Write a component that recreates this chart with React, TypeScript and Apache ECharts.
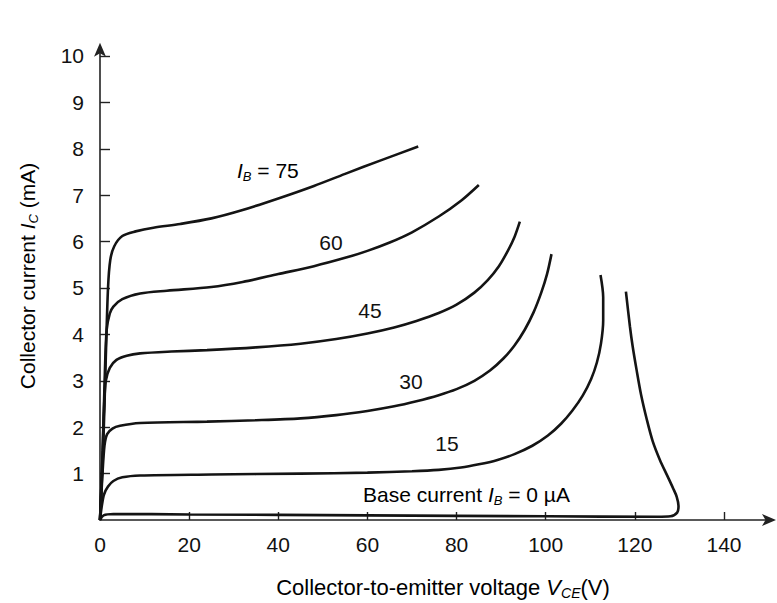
import React, { useEffect, useRef } from "react";
import * as echarts from "echarts";

// Tick values
const xTickValues = [0, 20, 40, 60, 80, 100, 120, 140];
const xTickMarks = [20, 40, 60, 80, 100, 120, 140];
const yTickValues = [1, 2, 3, 4, 5, 6, 7, 8, 9, 10];

// Collector characteristic curves: [V_CE (V), I_C (mA)]
const curveIB0: [number, number][] = [
  [0, 0], [0.8, 0.1], [3, 0.13], [20, 0.12], [60, 0.1], [100, 0.08], [125, 0.07],
  [128, 0.08], [129.5, 0.16], [129.8, 0.3], [129.4, 0.5], [128.6, 0.68], [127.3, 0.95],
  [125.6, 1.3], [124, 1.7], [122.7, 2.16], [121.4, 2.7], [120.4, 3.23], [119.5, 3.75],
  [118.9, 4.17], [118, 4.92],
];
const curveIB15: [number, number][] = [
  [0, 0], [0.4, 0.3], [0.9, 0.55], [1.8, 0.72], [3, 0.84], [5, 0.92], [9, 0.96],
  [25, 0.98], [45, 1.0], [60, 1.02], [70, 1.05], [76, 1.08], [81, 1.13], [85, 1.2],
  [89, 1.29], [93, 1.42], [97, 1.6], [100.5, 1.82], [103.5, 2.08], [106, 2.36],
  [108.3, 2.68], [110.2, 3.04], [111.5, 3.4], [112.4, 3.8], [112.9, 4.3], [112.9, 4.8],
  [112.3, 5.28],
];
const curveIB30: [number, number][] = [
  [0, 0], [0.5, 0.9], [1, 1.6], [1.6, 1.85], [2.8, 1.97], [4.5, 2.03], [9, 2.09],
  [24, 2.12], [35, 2.15], [45, 2.19], [53, 2.26], [60, 2.35], [66, 2.45], [71, 2.56],
  [76, 2.69], [80, 2.82], [84, 3.0], [87.5, 3.22], [90.5, 3.48], [93, 3.76], [95.3, 4.1],
  [97.3, 4.48], [99, 4.9], [100.3, 5.3], [101.3, 5.73],
];
const curveIB45: [number, number][] = [
  [0, 0], [0.5, 1.2], [0.9, 2.4], [1.3, 3.0], [2.2, 3.28], [3.7, 3.45], [6, 3.54],
  [9, 3.59], [16, 3.63], [24, 3.66], [35, 3.72], [45, 3.8], [53, 3.9], [60, 4.02],
  [66, 4.15], [71, 4.29], [76, 4.46], [80, 4.64], [84, 4.9], [87, 5.17], [89.5, 5.47],
  [91.5, 5.8], [93, 6.1], [94.2, 6.43],
];
const curveIB60: [number, number][] = [
  [0, 0], [0.6, 1.5], [1.1, 3.2], [1.5, 4.1], [2.2, 4.45], [3, 4.6], [5, 4.76],
  [9, 4.88], [15, 4.94], [25, 5.02], [32, 5.13], [40, 5.3], [48, 5.47], [55, 5.65],
  [60, 5.8], [65, 5.98], [70, 6.2], [76, 6.54], [81, 6.88], [85, 7.22],
];
const curveIB75: [number, number][] = [
  [0, 0], [0.7, 1.5], [1.3, 3.5], [1.8, 5.0], [2.3, 5.6], [3.2, 5.9], [5, 6.12],
  [8, 6.22], [12, 6.3], [18, 6.38], [25, 6.5], [32, 6.68], [40, 6.93], [48, 7.2],
  [55, 7.46], [63, 7.75], [71.4, 8.05],
];

const curves = [curveIB0, curveIB15, curveIB30, curveIB45, curveIB60, curveIB75];
const curveNames = ["IB0", "IB15", "IB30", "IB45", "IB60", "IB75"];

const FONT = "'Liberation Sans', Arial, Helvetica, sans-serif";
const INK = "#111111";

export default function App() {
  const ref = useRef<HTMLDivElement>(null);

  useEffect(() => {
    if (!ref.current) return;
    const chart = echarts.init(ref.current, null, { renderer: "svg" });

    const main = (size: number) => ({ fontSize: size, fontFamily: FONT, color: INK, lineHeight: 26, verticalAlign: "middle" });
    const ital = (size: number) => ({ ...main(size), fontStyle: "italic" });
    const sub = (size: number) => ({ fontSize: size, fontFamily: FONT, color: INK, fontStyle: "italic", lineHeight: size, verticalAlign: "bottom" });

    const plainLabel = (text: string, x: number, y: number) => ({
      type: "text",
      x,
      y,
      silent: true,
      style: { text, fontSize: 21, fontFamily: FONT, fill: INK, align: "center", verticalAlign: "middle" },
    });

    chart.setOption({
      animation: false,
      backgroundColor: "#ffffff",
      grid: { left: 100, top: 46.7, width: 673, height: 473.3, containLabel: false },
      xAxis: {
        type: "value",
        min: 0,
        max: 151,
        axisLine: {
          show: true,
          symbol: ["none", "arrow"],
          symbolSize: [9, 14],
          symbolOffset: [0, 3],
          lineStyle: { color: "#222", width: 1.6 },
        },
        axisTick: { show: true, inside: true, length: 8, customValues: xTickMarks, lineStyle: { color: "#222", width: 1.4 } },
        axisLabel: { customValues: xTickValues, margin: 14, fontSize: 21, fontFamily: FONT, color: INK },
        splitLine: { show: false },
      },
      yAxis: {
        type: "value",
        min: 0,
        max: 10.2,
        axisLine: {
          show: true,
          symbol: ["none", "arrow"],
          symbolSize: [9, 14],
          symbolOffset: [0, 4],
          lineStyle: { color: "#222", width: 1.6 },
        },
        axisTick: { show: true, inside: true, length: 10, customValues: yTickValues, lineStyle: { color: "#222", width: 1.4 } },
        axisLabel: { customValues: yTickValues, margin: 16, fontSize: 21, fontFamily: FONT, color: INK },
        splitLine: { show: false },
      },
      series: curves.map((data, i) => ({
        name: curveNames[i],
        type: "line",
        data,
        showSymbol: false,
        symbol: "none",
        smooth: 0.3,
        silent: true,
        lineStyle: { color: "#141414", width: 2.6 },
      })),
      graphic: [
        {
          type: "text",
          x: 237,
          y: 170,
          silent: true,
          style: {
            text: "{i|I}{s|B}{n| = 75}",
            verticalAlign: "middle",
            rich: { i: ital(21), s: sub(13), n: main(21) },
          },
        },
        plainLabel("60", 331, 242),
        plainLabel("45", 370, 310),
        plainLabel("30", 411, 381),
        plainLabel("15", 447, 443),
        {
          type: "text",
          x: 363,
          y: 494,
          silent: true,
          style: {
            text: "{n|Base current }{i|I}{s|B}{n| = 0 µA}",
            verticalAlign: "middle",
            rich: { i: ital(21), s: sub(13), n: main(21) },
          },
        },
        {
          type: "text",
          x: 443,
          y: 587,
          silent: true,
          style: {
            text: "{n|Collector-to-emitter voltage }{i|V}{s|CE}{n|(V)}",
            align: "center",
            verticalAlign: "middle",
            rich: { i: ital(22), s: sub(14), n: main(22) },
          },
        },
        {
          type: "text",
          x: 27,
          y: 276,
          rotation: Math.PI / 2,
          silent: true,
          style: {
            text: "{n|Collector current }{i|I}{s|C}{n| (mA)}",
            align: "center",
            verticalAlign: "middle",
            rich: { i: ital(21), s: sub(13), n: main(21) },
          },
        },
      ],
    });

    return () => chart.dispose();
  }, []);

  return (
    <div
      ref={ref}
      style={{ position: "fixed", left: 0, top: 0, width: 777, height: 603, background: "#fff" }}
    />
  );
}
